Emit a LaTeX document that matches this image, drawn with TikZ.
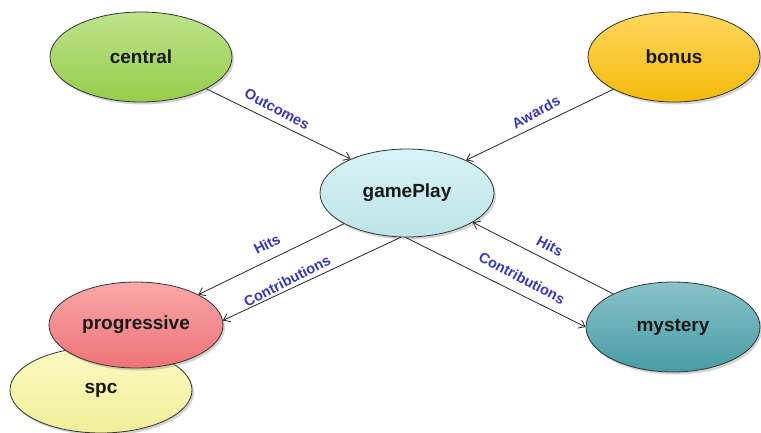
\documentclass[tikz,border=0pt]{standalone}
\usepackage{fontspec}
\setmainfont{Liberation Sans}
\usetikzlibrary{shapes.geometric,shadows,arrows.meta}

\definecolor{cGreen}{HTML}{9BD54E}
\definecolor{cGold}{HTML}{FFC20A}
\definecolor{cCyan}{HTML}{C4EDF2}
\definecolor{cRed}{HTML}{F8787C}
\definecolor{cYellow}{HTML}{FAF8A0}
\definecolor{cTeal}{HTML}{4AA2AC}
\definecolor{cLabel}{HTML}{3838B0}

\tikzset{
  bubble/.style n args={3}{ellipse, draw=black!80, line width=0.8pt,
    minimum width=#1, minimum height=#2, inner sep=0pt,
    top color=#3!65!white, middle color=#3, bottom color=#3!96!black,
    drop shadow={shadow xshift=2pt, shadow yshift=-2.5pt, opacity=0.35},
    font=\fontsize{19}{19}\selectfont\bfseries, text=black!90},
  link/.style={line width=0.8pt, black!85, -{Straight Barb[length=6pt,width=9pt]}},
  tag/.style={font=\fontsize{14.5}{14.5}\selectfont\bfseries, text=cLabel, inner sep=0pt}
}

\begin{document}
\begin{tikzpicture}[x=1pt,y=1pt]
\useasboundingbox (0,0) rectangle (761,-432);

% concept bubbles (spc first so progressive overlaps it)
\node[bubble={182pt}{86pt}{cYellow}] (spc) at (101,-390) {spc};
\node[bubble={182pt}{90pt}{cGreen}] (central) at (141,-57) {central};
\node[bubble={172pt}{90pt}{cGold}] (bonus) at (674,-57) {bonus};
\node[bubble={174pt}{88pt}{cCyan}] (gamePlay) at (407,-193) {gamePlay};
\node[bubble={174pt}{86pt}{cRed}] (progressive) at (136,-325) {progressive};
\node[bubble={174pt}{90pt}{cTeal}] (mystery) at (673,-327) {mystery};

% relations
\draw[link] (central.-26.6) -- (gamePlay.149);
\draw[link] (bonus.208) -- (gamePlay.29);
\draw[link] (gamePlay.206) -- (progressive.26.6);
\draw[link] (gamePlay.262) -- (progressive.3);
\draw[link] (gamePlay.268) -- (mystery.180);
\draw[link] (mystery.151) -- (gamePlay.-24.4);

% relation labels
\node[tag, rotate=-28] (lOut) at (277,-109) {Outcomes};
\node[tag, rotate=29] (lAw) at (536,-112) {Awards};
\node[tag, rotate=27] (lHitL) at (267,-244) {Hits};
\node[tag, rotate=27] (lConL) at (287,-281) {Contributions};
\node[tag, rotate=-28] (lConR) at (522,-278) {Contributions};
\node[tag, rotate=-28] (lHitR) at (550,-246) {Hits};
\end{tikzpicture}
\end{document}
